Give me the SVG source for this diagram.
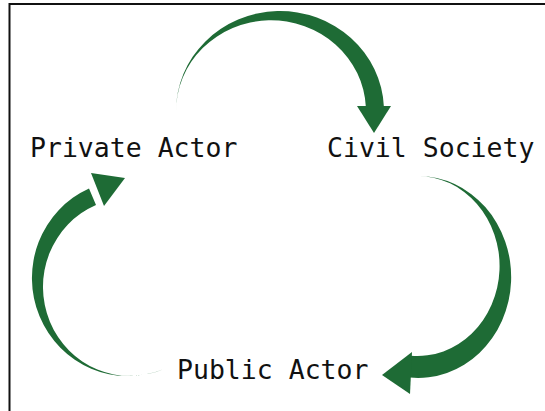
<svg xmlns="http://www.w3.org/2000/svg" width="545" height="411" viewBox="0 0 545 411">
  <style>
    .label { font-family: "DejaVu Sans Mono", "Liberation Mono", monospace; font-size: 26.5px; fill: #111; }
    .arrow { fill: #1e6b35; stroke: none; }
  </style>
  <rect x="0" y="0" width="545" height="411" fill="#fff"/>
  <!-- frame -->
  <rect x="9.5" y="4" width="560" height="430" fill="none" stroke="#111" stroke-width="2"/>

  <g id="connectors">
    <!-- Private Actor to Civil Society: crescent shaft, outer and inner ellipses meet at the tail -->
    <g id="arrow-top">
      <path class="arrow" d="M176 112 A104 100 0 0 1 383.9 106.8 L365.9 107.2 A95 91 0 0 0 176 112 Z"/>
      <polygon class="arrow" points="357,106 391,106 374,133"/>
    </g>
    <!-- Civil Society to Public Actor -->
    <g id="arrow-right">
      <path class="arrow" d="M418 176 A93 101 0 1 1 409.9 377.6 L410.9 355.7 A82 90 0 1 0 418 176 Z"/>
      <polygon class="arrow" points="412,352 410,394 382,375"/>
    </g>
    <!-- Public Actor to Private Actor -->
    <g id="arrow-left">
      <path class="arrow" d="M164 368.9 A96 98 0 0 1 89 188.5 L96 205 A87 89 0 0 0 164 368.9 Z"/>
      <polygon class="arrow" points="91,173 104,206 125,178"/>
    </g>
  </g>

  <g id="node-private">
    <text class="label" x="30" y="157">Private Actor</text>
  </g>
  <g id="node-civil">
    <text class="label" x="327" y="157">Civil Society</text>
  </g>
  <g id="node-public">
    <text class="label" x="177" y="379">Public Actor</text>
  </g>
</svg>
